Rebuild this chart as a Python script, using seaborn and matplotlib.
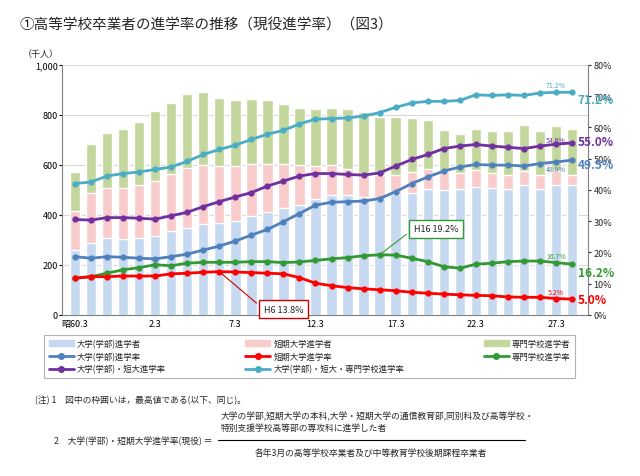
import numpy as np
import pandas as pd
import seaborn as sns
import matplotlib.pyplot as plt
from matplotlib.lines import Line2D
from matplotlib.patches import Patch

sns.set_style("white")
plt.rcParams['font.family'] = ['Noto Sans CJK JP', 'DejaVu Sans']

# data (thousand persons, %), 昭60 (1985) .. 平28 (2016)
tick_labels = ['昭60.3', '2.3', '7.3', '12.3', '17.3', '22.3', '27.3']
tick_idx = [0, 5, 10, 15, 20, 25, 30]
univ_n = [259, 289, 306, 303, 306, 316, 335, 348, 362, 366, 375, 395, 412, 428, 439, 465,
          479, 479, 472, 465, 485, 489, 505, 499, 503, 512, 508, 505, 519, 505, 521, 519]
univ_jc_n = [415, 488, 509, 509, 519, 536, 565, 588, 601, 594, 596, 602, 605, 605, 598, 596,
             598, 585, 565, 561, 561, 572, 582, 572, 569, 578, 569, 561, 574, 561, 574, 561]
total_n = [572, 682, 729, 743, 771, 814, 848, 883, 891, 868, 858, 864, 860, 844, 827, 824,
           827, 822, 811, 791, 791, 787, 778, 738, 725, 745, 737, 736, 761, 736, 755, 745]
r_all = [42.0, 42.5, 44.4, 45.2, 45.7, 46.5, 47.3, 49.1, 51.3, 52.9, 54.3, 56.1, 57.8, 59.0, 61.1, 62.6,
         62.8, 63.0, 63.6, 64.7, 66.4, 67.8, 68.3, 68.3, 68.6, 70.4, 70.2, 70.4, 70.2, 71.0, 71.2, 71.2]
r_uj = [30.5, 30.3, 31.1, 31.1, 30.9, 30.6, 31.7, 32.8, 34.6, 36.2, 37.7, 39.1, 41.2, 42.8, 44.4, 45.2,
        45.2, 44.9, 44.7, 45.4, 47.6, 49.7, 51.3, 53.2, 54.0, 54.5, 54.0, 53.6, 53.2, 54.0, 54.6, 55.0]
r_univ = [18.6, 18.1, 18.6, 18.4, 18.1, 17.9, 18.6, 19.4, 20.7, 22.0, 23.6, 25.5, 27.3, 29.8, 32.4, 35.1,
          36.0, 36.2, 36.4, 37.2, 39.4, 42.0, 44.1, 46.0, 47.3, 48.1, 47.9, 47.9, 47.6, 48.4, 48.9, 49.5]
r_sen = [11.7, 12.2, 13.3, 14.4, 15.1, 16.0, 15.7, 16.5, 16.8, 16.8, 16.8, 17.0, 17.0, 16.7, 16.9, 17.4,
         17.9, 18.3, 18.9, 19.2, 19.1, 18.1, 17.0, 15.4, 14.9, 16.2, 16.5, 17.0, 17.2, 17.2, 16.7, 16.2]
r_jc = [11.7, 12.2, 12.2, 12.4, 12.4, 12.4, 13.1, 13.3, 13.6, 13.8, 13.7, 13.5, 13.3, 13.1, 11.9, 10.1,
        9.3, 8.7, 8.3, 8.0, 7.7, 7.2, 6.9, 6.6, 6.4, 6.2, 6.1, 5.7, 5.6, 5.6, 5.2, 5.0]

idx = np.arange(len(total_n))
df = pd.DataFrame({'i': idx, 'total': total_n, 'uj': univ_jc_n, 'u': univ_n})

fig = plt.figure(figsize=(6.4, 4.77), dpi=100)
ax = fig.add_axes([0.097, 0.338, 0.822, 0.524])
c_blue, c_pink, c_green = '#c6d9f1', '#f9cccc', '#c3d69b'
for col, c in [('total', c_green), ('uj', c_pink), ('u', c_blue)]:
    sns.barplot(data=df, x='i', y=col, color=c, width=0.65, saturation=1, ax=ax, zorder=2)
ax.set_ylim(0, 1000)
ax.set_xlim(-0.8, 32.0)
ax.set_yticks(range(0, 1001, 200))
ax.set_yticklabels(['0', '200', '400', '600', '800', '1,000'], fontsize=6.5)
ax.set_xticks(tick_idx)
ax.set_xticklabels(tick_labels, fontsize=6.5)
ax.set_xlabel(''); ax.set_ylabel('')
ax.yaxis.grid(True, color='#d9d9d9', lw=0.8, zorder=0)
ax.set_axisbelow(True)
for s in ['top', 'right']:
    ax.spines[s].set_visible(False)
ax.spines['left'].set_color('#808080'); ax.spines['bottom'].set_color('#808080')
ax.tick_params(length=2, pad=1, colors='black')
ax.text(-0.04, 1.035, '（千人）', transform=ax.transAxes, fontsize=6.5, ha='center')

ax2 = ax.twinx()
lines = [(r_all, '#4bacc6'), (r_uj, '#7030a0'), (r_univ, '#4f81bd'), (r_sen, '#339933'), (r_jc, '#ff0000')]
for vals, c in lines:
    sns.lineplot(x=idx, y=vals, color=c, lw=2, marker='o', markersize=4.5, markeredgewidth=0, ax=ax2)
ax2.set_ylim(0, 80)
ax2.set_yticks(range(0, 81, 10))
ax2.set_yticklabels([f'{v}%' for v in range(0, 81, 10)], fontsize=6.5)
for s in ['top', 'left', 'bottom']:
    ax2.spines[s].set_visible(False)
ax2.spines['right'].set_color('#808080')
ax2.tick_params(length=2, pad=2)

# end labels
ends = [(r_all, '#4bacc6', '71.2%'), (r_uj, '#7030a0', '55.0%'), (r_univ, '#4f81bd', '49.5%'),
        (r_sen, '#339933', '16.2%'), (r_jc, '#ff0000', '5.0%')]
offs = [-2.2, 0.5, -1.5, -2.8, 0]
for (vals, c, t), o in zip(ends, offs):
    ax2.text(31.35, vals[-1] + o, t, color=c, fontsize=8.5, fontweight='bold', va='center')
small = [(r_all, '#4bacc6', '71.2%', 2.2), (r_uj, '#7030a0', '54.6%', 1.2), (r_univ, '#4f81bd', '48.9%', -2.2),
         (r_sen, '#339933', '16.7%', 2.2), (r_jc, '#ff0000', '5.2%', 2.2)]
for vals, c, t, o in small:
    ax2.text(30, vals[30] + o, t, color=c, fontsize=5, ha='center', va='center')

ax2.annotate('H6 13.8%', xy=(9, 13.8), xytext=(13, 1.8), fontsize=6.5, ha='center', va='center',
             bbox=dict(boxstyle='square,pad=0.5', fc='white', ec='#cc0000', lw=1),
             arrowprops=dict(arrowstyle='-', color='#cc0000', lw=0.8, relpos=(0, 0.5)))
ax2.annotate('H16 19.2%', xy=(19, 19.2), xytext=(22.5, 27.5), fontsize=6.5, ha='center', va='center',
             bbox=dict(boxstyle='square,pad=0.5', fc='white', ec='#339933', lw=1),
             arrowprops=dict(arrowstyle='-', color='#339933', lw=0.8, relpos=(0, 0.5)))

fig.text(0.03, 0.94, '①高等学校卒業者の進学率の推移（現役進学率）（図3）', fontsize=10.5)

handles = [Patch(color=c_blue), Patch(color=c_pink), Patch(color=c_green)]
handles += [Line2D([], [], color=c, lw=2, marker='o', markersize=4) for c in
            ['#4f81bd', '#ff0000', '#339933', '#7030a0', '#4bacc6']]
labels = ['大学(学部)進学者', '短期大学進学者', '専門学校進学者', '大学(学部)進学率', '短期大学進学率',
          '専門学校進学率', '大学(学部)・短大進学率', '大学(学部)・短大・専門学校進学率']
order = [0, 3, 6, 1, 4, 7, 2, 5]
h = [handles[k] for k in order]
l = [labels[k] for k in order]
h.insert(8, Line2D([], [], lw=0)); l.insert(8, '')
leg = fig.legend(h, l, ncol=3, loc='upper left', bbox_to_anchor=(0.063, 0.305), fontsize=6,
                 frameon=True, fancybox=False, edgecolor='#a0a0a0', handlelength=3,
                 handletextpad=0.4, columnspacing=9.5, labelspacing=0.45, borderpad=0.5)
leg.get_frame().set_linewidth(0.8)

fig.text(0.055, 0.155, '(注) 1　図中の枠囲いは，最高値である(以下、同じ)。', fontsize=6.3)
fig.text(0.085, 0.075, '2　大学(学部)・短期大学進学率(現役) ＝', fontsize=6.3, va='center')
fig.text(0.345, 0.115, '大学の学部,短期大学の本科,大学・短期大学の通信教育部,同別科及び高等学校・\n特別支援学校高等部の専攻科に進学した者',
         fontsize=6.3, va='center', linespacing=1.4)
fig.add_artist(Line2D([0.34, 0.82], [0.075, 0.075], color='black', lw=0.8))
fig.text(0.58, 0.05, '各年3月の高等学校卒業者及び中等教育学校後期課程卒業者', fontsize=6.3, ha='center', va='center')

fig.savefig('out.png', dpi=100)
